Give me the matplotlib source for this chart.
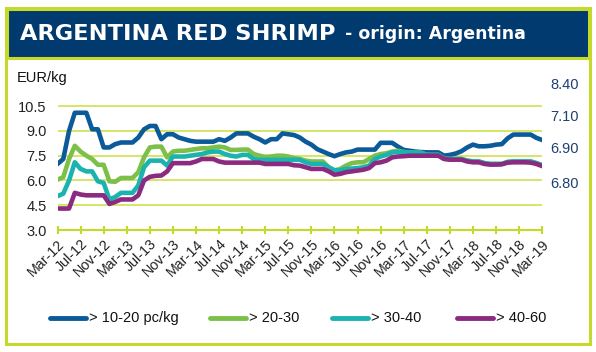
import numpy as np
import matplotlib
matplotlib.use("Agg")
import matplotlib.pyplot as plt
from matplotlib.patches import Rectangle
from matplotlib.lines import Line2D

# monthly prices, Mar-12 .. Mar-19 (EUR/kg)
size_10_20 = [7.0, 7.3, 9.0, 10.1, 10.1, 10.1, 9.1, 9.1, 8.0, 8.0,
              8.2, 8.3, 8.3, 8.3, 8.6, 9.1, 9.3, 9.3, 8.5, 8.8,
              8.8, 8.6, 8.5, 8.4, 8.35, 8.35, 8.35, 8.35, 8.5, 8.4,
              8.6, 8.85, 8.85, 8.85, 8.65, 8.5, 8.3, 8.5, 8.5, 8.85,
              8.8, 8.75, 8.6, 8.35, 8.17, 7.9, 7.75, 7.6, 7.47, 7.6,
              7.7, 7.75, 7.87, 7.87, 7.87, 7.87, 8.28, 8.28, 8.28, 8.05,
              7.85, 7.8, 7.75, 7.72, 7.7, 7.7, 7.7, 7.5, 7.55, 7.63,
              7.77, 8.0, 8.17, 8.07, 8.07, 8.1, 8.17, 8.2, 8.55, 8.78,
              8.78, 8.78, 8.78, 8.58, 8.45]
size_20_30 = [6.05, 6.2, 7.3, 8.1, 7.75, 7.5, 7.3, 6.95, 6.95, 5.95,
              5.92, 6.15, 6.15, 6.15, 6.5, 7.4, 8.0, 8.05, 8.05, 7.4,
              7.75, 7.8, 7.8, 7.85, 7.9, 7.95, 7.95, 8.0, 8.05, 8.0,
              7.85, 7.85, 7.87, 7.87, 7.6, 7.5, 7.43, 7.45, 7.5, 7.5,
              7.45, 7.35, 7.3, 7.2, 7.15, 7.15, 7.15, 6.8, 6.6, 6.7,
              6.9, 7.05, 7.1, 7.1, 7.3, 7.5, 7.6, 7.65, 7.75, 7.8,
              7.72, 7.7, 7.7, 7.68, 7.55, 7.55, 7.55, 7.32, 7.3, 7.3,
              7.3, 7.2, 7.15, 7.15, 7.05, 7.0, 7.0, 7.0, 7.12, 7.15,
              7.15, 7.15, 7.15, 7.05, 6.92]
size_30_40 = [5.05, 5.2, 6.0, 7.1, 6.7, 6.55, 6.55, 5.95, 5.85, 4.85,
              5.0, 5.25, 5.25, 5.25, 5.7, 6.8, 7.2, 7.2, 7.2, 6.9,
              7.45, 7.45, 7.45, 7.5, 7.55, 7.6, 7.7, 7.75, 7.75, 7.6,
              7.5, 7.45, 7.55, 7.55, 7.3, 7.25, 7.25, 7.25, 7.25, 7.25,
              7.25, 7.25, 7.25, 7.1, 7.0, 7.0, 7.0, 6.8, 6.62, 6.62,
              6.7, 6.72, 6.75, 6.8, 6.9, 7.3, 7.45, 7.55, 7.7, 7.72,
              7.72, 7.7, 7.7, 7.68, 7.55, 7.55, 7.55, 7.32, 7.3, 7.3,
              7.3, 7.2, 7.15, 7.15, 7.05, 7.0, 7.0, 7.0, 7.12, 7.15,
              7.15, 7.15, 7.15, 7.05, 6.92]
size_40_60 = [4.3, 4.3, 4.3, 5.25, 5.15, 5.1, 5.1, 5.1, 5.1, 4.58,
              4.7, 4.85, 4.85, 4.85, 5.1, 6.0, 6.22, 6.28, 6.3, 6.55,
              7.05, 7.05, 7.05, 7.05, 7.15, 7.3, 7.3, 7.3, 7.15, 7.08,
              7.08, 7.08, 7.08, 7.08, 7.08, 7.08, 7.0, 7.0, 7.0, 7.0,
              7.0, 6.92, 6.9, 6.8, 6.7, 6.7, 6.7, 6.55, 6.35, 6.4,
              6.5, 6.55, 6.6, 6.65, 6.75, 7.05, 7.1, 7.2, 7.4, 7.45,
              7.47, 7.5, 7.5, 7.5, 7.5, 7.5, 7.5, 7.3, 7.26, 7.26,
              7.26, 7.15, 7.1, 7.1, 7.0, 6.96, 6.96, 6.98, 7.08, 7.1,
              7.1, 7.1, 7.08, 7.0, 6.87]

series_labels = ["> 10-20 pc/kg", "> 20-30", "> 30-40", "> 40-60"]
series_colors = ["#0b5a9a", "#7cc04a", "#1bb3b0", "#8c2a82"]

tick_labels = ["Mar-12", "Jul-12", "Nov-12", "Mar-13", "Jul-13", "Nov-13",
               "Mar-14", "Jul-14", "Nov-14", "Mar-15", "Jul-15", "Nov-15",
               "Mar-16", "Jul-16", "Nov-16", "Mar-17", "Jul-17", "Nov-17",
               "Mar-18", "Jul-18", "Nov-18", "Mar-19"]
left_ticks = [3.0, 4.5, 6.0, 7.5, 9.0, 10.5]
right_labels = ["8.40", "7.10", "6.90", "6.80"]
right_pos = [11.9, 9.95, 8.0, 5.9]

W, H = 596, 352
GREEN = "#c5d92a"
NAVY = "#003a6e"

fig = plt.figure(figsize=(W / 100, H / 100), dpi=100)
plt.rcParams['font.family'] = ['Liberation Sans', 'DejaVu Sans']

# frame and title bar
fig.add_artist(Rectangle((6 / W, 1 - 344 / H), 584 / W, 336 / H, transform=fig.transFigure,
                         fill=False, edgecolor=GREEN, linewidth=2.2))
fig.add_artist(Rectangle((7 / W, 1 - 58 / H), 582 / W, 49 / H, transform=fig.transFigure,
                         facecolor=NAVY, edgecolor=GREEN, linewidth=2.2))
fig.text(20 / W, 1 - 34 / H, "ARGENTINA RED SHRIMP", color="white", fontsize=16.2,
         fontweight="bold", family="DejaVu Sans", va="center", ha="left")
fig.text(345 / W, 1 - 34 / H, "- origin: Argentina", color="white", fontsize=12.5,
         fontweight="bold", family="DejaVu Sans", va="center", ha="left")

ax = fig.add_axes([57.5 / W, 1 - 230 / H, (542.2 - 57.5) / W, (230 - 81.4) / H])
x = np.arange(len(size_10_20))
for vals, col, lab in zip([size_10_20, size_20_30, size_30_40, size_40_60],
                          series_colors, series_labels):
    ax.plot(x, vals, color=col, linewidth=3.3, label=lab, solid_joinstyle="round")

ax.set_xlim(0, 84)
ax.set_ylim(3, 12)
for v in left_ticks[1:]:
    ax.axhline(v, color="#d3e35a", linewidth=1.3, zorder=0)
for s in ["top", "right", "left"]:
    ax.spines[s].set_visible(False)
ax.spines["bottom"].set_color(GREEN)
ax.spines["bottom"].set_linewidth(1.5)
ax.set_yticks(left_ticks)
ax.set_yticklabels([f"{v:.1f}" for v in left_ticks], fontsize=10.5, color="#222222")
ax.tick_params(axis="y", length=0, pad=8)
ax.set_xticks(np.arange(0, 85, 4))
ax.set_xticklabels(tick_labels, rotation=45, ha="right", rotation_mode="anchor",
                   fontsize=10.3, color="#222222")
ax.tick_params(axis="x", direction="inout", length=6, width=1.5, color=GREEN, pad=2)

ax2 = ax.twinx()
ax2.set_ylim(3, 12)
ax2.set_yticks(right_pos)
ax2.set_yticklabels(right_labels, fontsize=10.5, color="#1f3f73")
ax2.tick_params(axis="y", length=0, pad=6)
for s in ax2.spines.values():
    s.set_visible(False)

fig.text(17 / W, 1 - 78 / H, "EUR/kg", fontsize=10.5, color="#111111", va="center")

# legend, laid out by hand to match the original spacing
leg_line_x = [48, 208, 330, 455]
leg_y = 1 - 318 / H
for lx, col, lab in zip(leg_line_x, series_colors, series_labels):
    fig.add_artist(Line2D([(lx + 2) / W, (lx + 38) / W], [leg_y, leg_y],
                          transform=fig.transFigure, color=col, linewidth=3.5,
                          solid_capstyle="round"))
    fig.text((lx + 41) / W, leg_y, lab, fontsize=10.5, color="#111111",
             va="center", ha="left")

fig.savefig("out.png", dpi=100)
